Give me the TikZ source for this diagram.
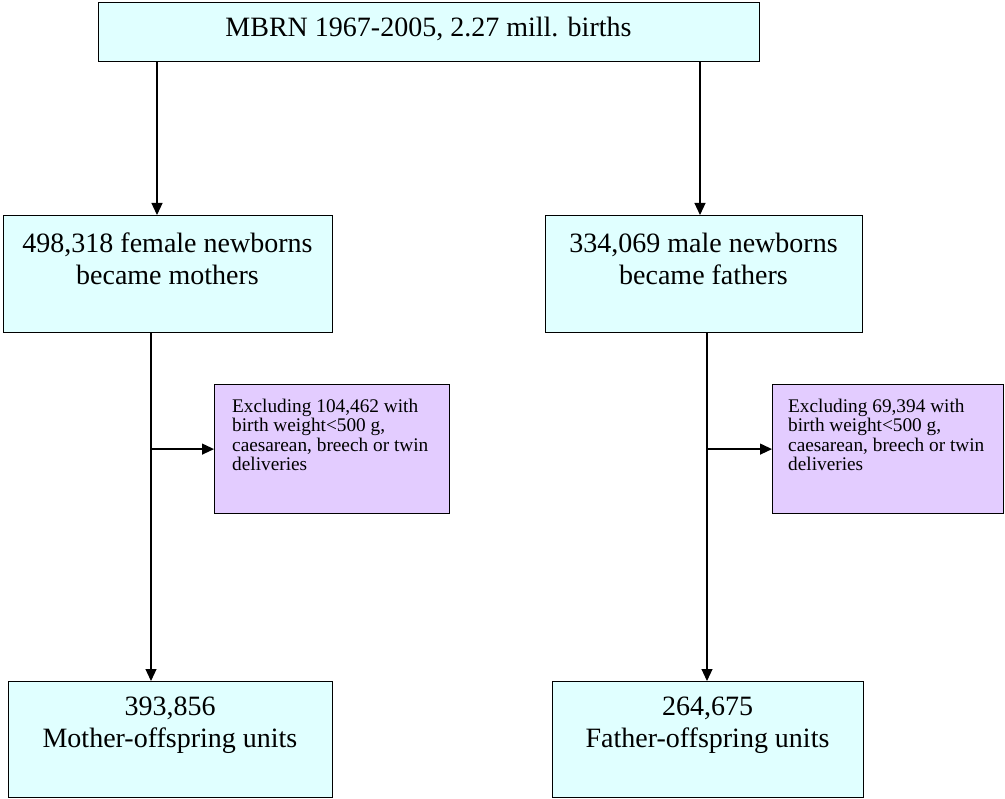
\documentclass[tikz,border=0pt]{standalone}
\usepackage{fontspec}
\setmainfont{Liberation Serif}
\usetikzlibrary{arrows.meta}
\definecolor{boxcyan}{HTML}{E0FFFF}
\definecolor{boxviolet}{HTML}{E3CCFF}
\begin{document}
\begin{tikzpicture}[x=1pt,y=-1pt,
 cbox/.style={draw=black, fill=boxcyan, line width=1.2pt, rectangle, inner sep=0pt, anchor=north west},
 pbox/.style={draw=black, fill=boxviolet, line width=1.2pt, rectangle, inner sep=0pt, anchor=north west},
 bigtext/.style={inner sep=0pt, font=\fontsize{28}{31.5}\selectfont, align=center},
 smalltext/.style={inner sep=0pt, font=\fontsize{19.3}{19.4}\selectfont, align=left, anchor=north west},
 arr/.style={line width=1.2pt, -{Triangle[length=12pt,width=11pt]}}]
\useasboundingbox (0,0) rectangle (1005,799);
% boxes
\node[cbox, minimum width=661pt, minimum height=59pt] (top) at (98,2) {};
\node[cbox, minimum width=329pt, minimum height=117pt] (fem) at (3,215) {};
\node[cbox, minimum width=317pt, minimum height=117pt] (mal) at (545,215) {};
\node[pbox, minimum width=235pt, minimum height=129pt] (exl) at (214,384) {};
\node[pbox, minimum width=231pt, minimum height=129pt] (exr) at (772,384) {};
\node[cbox, minimum width=324pt, minimum height=116pt] (mot) at (8,681) {};
\node[cbox, minimum width=311pt, minimum height=116pt] (fat) at (552,681) {};
% texts
\node[bigtext, anchor=base] (toptxt) at (428.5,37) {MBRN 1967-2005, 2.27 mill. births};
\node[bigtext, anchor=north] (femtxt) at (167.5,233) {498,318 female newborns\\became mothers};
\node[bigtext, anchor=north] (maltxt) at (703.5,233) {334,069 male newborns\\became fathers};
\node[smalltext] (exltxt) at (232,398.8) {Excluding 104,462 with\\birth weight<500 g,\\caesarean, breech or twin\\deliveries};
\node[smalltext] (exrtxt) at (788,398.8) {Excluding 69,394 with\\birth weight<500 g,\\caesarean, breech or twin\\deliveries};
\node[bigtext, anchor=north] (mottxt) at (170,697) {393,856\\Mother-offspring units};
\node[bigtext, anchor=north] (fattxt) at (707.5,697) {264,675\\Father-offspring units};
% connector x positions
\coordinate (xa) at (157,0);
\coordinate (xb) at (700,0);
\coordinate (xc) at (151,0);
\coordinate (xd) at (707,0);
\draw[arr] (top.south -| xa) -- (fem.north -| xa);
\draw[arr] (top.south -| xb) -- (mal.north -| xb);
\draw[arr] (fem.south -| xc) -- (mot.north -| xc);
\draw[arr] (mal.south -| xd) -- (fat.north -| xd);
\draw[arr] (exl.west -| xc) -- (exl.west);
\draw[arr] (exr.west -| xd) -- (exr.west);
\end{tikzpicture}
\end{document}
